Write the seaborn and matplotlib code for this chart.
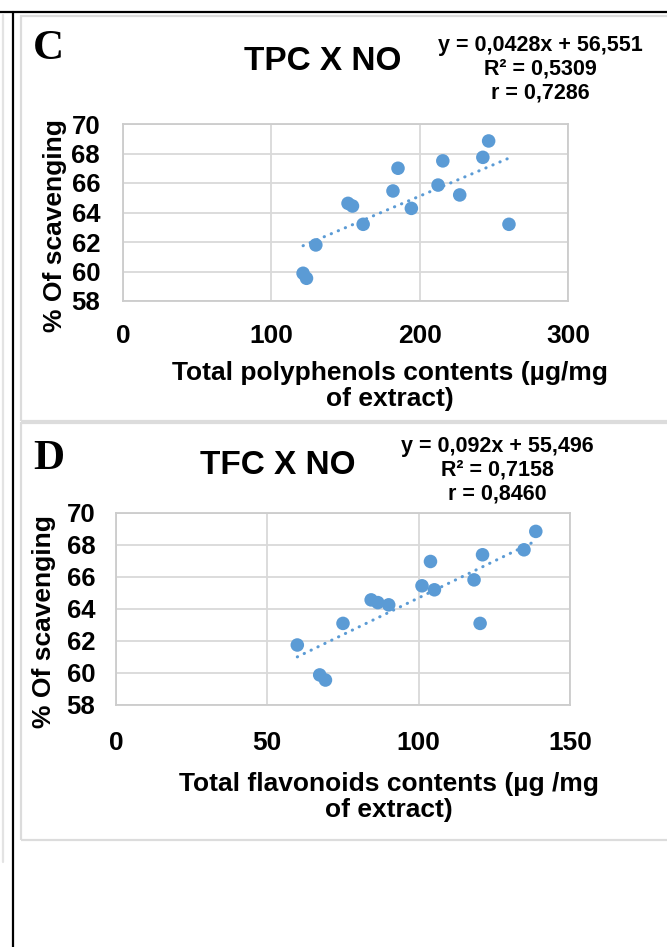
import matplotlib
matplotlib.use("Agg")
import numpy as np
import seaborn as sns
import matplotlib.pyplot as plt
from matplotlib.lines import Line2D
from matplotlib.patches import Rectangle

# panel C: total polyphenols vs % of NO scavenging
tpc = [246.5, 242.6, 215.6, 185.4, 182.0, 212.4, 227.0, 194.4, 151.7, 154.7, 161.9, 260.2, 130.0, 121.4, 123.7]
scav_c = [68.85, 67.74, 67.5, 67.0, 65.46, 65.86, 65.19, 64.28, 64.62, 64.44, 63.2, 63.2, 61.8, 59.88, 59.54]
fit_c = [0.0428, 56.551]

# panel D: total flavonoids vs % of NO scavenging
tfc = [138.7, 134.8, 121.1, 103.9, 118.3, 101.1, 105.2, 84.3, 86.5, 90.1, 75.0, 120.3, 59.9, 67.3, 69.2]
scav_d = [68.85, 67.7, 67.39, 66.97, 65.82, 65.45, 65.2, 64.57, 64.4, 64.26, 63.1, 63.1, 61.75, 59.88, 59.56]
fit_d = [0.092, 55.496]

yticks = [58, 60, 62, 64, 66, 68, 70]
xticks_c = [0, 100, 200, 300]
xticks_d = [0, 50, 100, 150]

sns.set_theme(style="whitegrid")
plt.rcParams["font.family"] = ["Liberation Sans", "DejaVu Sans"]
plt.rcParams["text.color"] = "black"

W, H = 667, 947
fig = plt.figure(figsize=(W / 100, H / 100), dpi=100)
fig.patch.set_facecolor("white")

blue = "#5B9BD5"
grid = "#d9d9d9"


def fx(px):
    return px / W


def fy(py):
    return 1 - py / H


# table borders
fig.add_artist(Line2D([0, 1], [fy(12.5), fy(12.5)], color="black", lw=1.6, transform=fig.transFigure))
fig.add_artist(Line2D([fx(12.7), fx(12.7)], [fy(12.5), 0], color="black", lw=1.6, transform=fig.transFigure))
fig.add_artist(Line2D([fx(3), fx(3)], [fy(15), fy(862)], color="#e3e3e3", lw=1.6, transform=fig.transFigure))
for top, bot in [(16, 421), (423, 840)]:
    fig.add_artist(Rectangle((fx(21), fy(bot)), fx(700) - fx(21), fy(top) - fy(bot),
                             fill=False, edgecolor="#dcdcdc", lw=1.6, transform=fig.transFigure))


def panel(box, x, y, fit, xticks, xmax, letter, title, eq, ypos, ytpad, xtpad):
    left, top, right, bottom = box
    ax = fig.add_axes([fx(left), fy(bottom), fx(right) - fx(left), fy(top) - fy(bottom)])
    sns.scatterplot(x=x, y=y, ax=ax, color=blue, s=95, edgecolor="none", zorder=3)
    xs = np.array([min(x), max(x)])
    ax.plot(xs, fit[0] * xs + fit[1], color=blue, lw=2.2,
            linestyle=(0, (0.1, 2.4)), dash_capstyle="round", zorder=2)
    ax.set_xlim(0, xmax)
    ax.set_ylim(58, 70)
    ax.set_xticks(xticks)
    ax.set_yticks(yticks)
    ax.set_xticklabels([str(v) for v in xticks], fontsize=19, fontweight="bold")
    ax.set_yticklabels([str(v) for v in yticks], fontsize=18.5, fontweight="bold")
    ax.tick_params(axis="y", length=0, pad=ytpad, colors="black")
    ax.tick_params(axis="x", length=0, pad=xtpad, colors="black")
    ax.grid(True, color=grid, lw=1.3)
    for s in ax.spines.values():
        s.set_color("#cccccc")
        s.set_linewidth(1.3)
    ax.set_xlabel("")
    ax.set_ylabel("")

    lx, ly, tx, ty, ex, ey, xlx, xly, ylx, yly, xlab = ypos
    fig.text(fx(lx), fy(ly), letter, family=["Liberation Serif", "DejaVu Serif"],
             fontsize=31, fontweight="bold", ha="left", va="center")
    fig.text(fx(tx), fy(ty), title, fontsize=24, fontweight="bold", ha="center", va="center")
    for i, line in enumerate(eq):
        fig.text(fx(ex), fy(ey + i * 24), line, fontsize=15.5, fontweight="bold", ha="center", va="center")
    fig.text(fx(xlx), fy(xly), xlab, fontsize=19, fontweight="bold", ha="center", va="center",
             linespacing=1.15)
    fig.text(fx(ylx), fy(yly), "% Of scavenging", fontsize=19, fontweight="bold", ha="center",
             va="center", rotation=90)
    return ax


panel((123, 124, 568, 301), tpc, scav_c, fit_c, xticks_c, 300, "C", "TPC X NO",
      ["y = 0,0428x + 56,551", "R² = 0,5309", "r = 0,7286"],
      (33, 49, 323, 61, 540, 45, 390, 386, 55, 226,
       "Total polyphenols contents (µg/mg\nof extract)"), 16.5, 16.5)

panel((116, 513, 570, 705), tfc, scav_d, fit_d, xticks_d, 150, "D", "TFC X NO",
      ["y = 0,092x + 55,496", "R² = 0,7158", "r = 0,8460"],
      (33, 459, 278, 465, 497, 446, 389, 797, 44, 622,
       "Total flavonoids contents (µg /mg\nof extract)"), 15, 19)

plt.savefig("out.png", dpi=100, facecolor="white")
